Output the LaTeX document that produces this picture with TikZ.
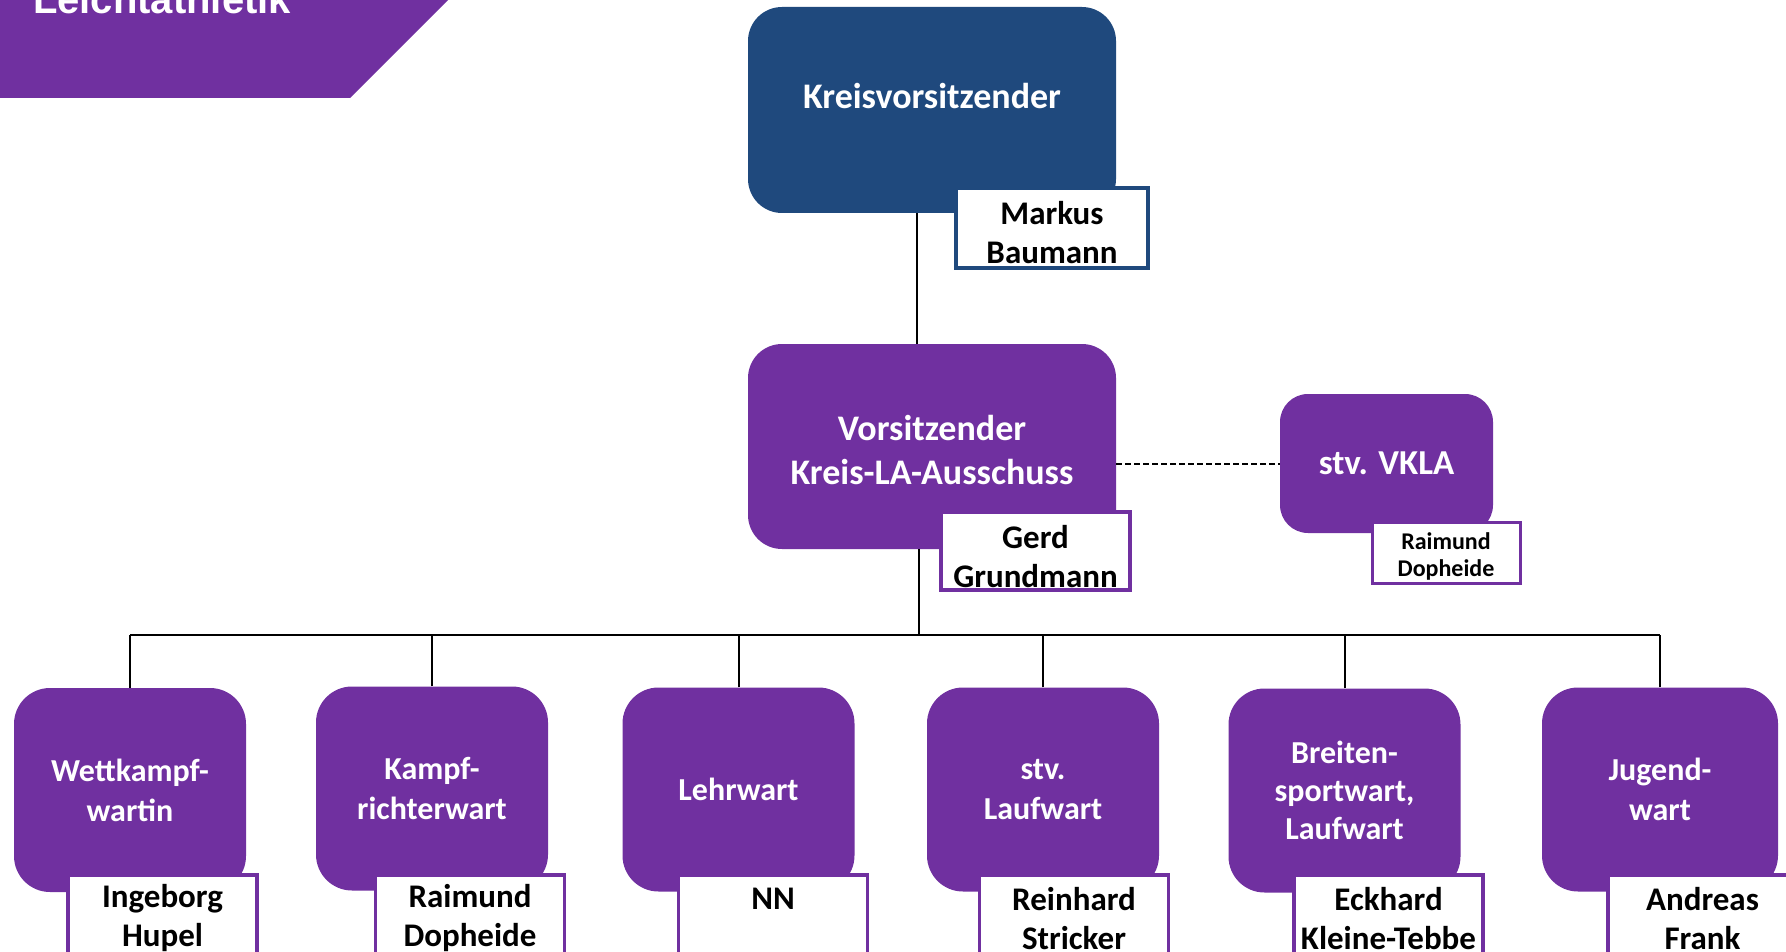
\documentclass[tikz,border=0pt]{standalone}
\usepackage{fontspec}
\setmainfont{Carlito}
\newfontfamily\bannerfont{Liberation Sans}
\usetikzlibrary{positioning}
\definecolor{lapurple}{RGB}{112,48,160}
\definecolor{ladarkblue}{RGB}{31,73,125}
\newcommand{\toproom}[1]{\rule{0pt}{#1}}

\begin{document}
\begin{tikzpicture}[x=1pt, y=-1pt,
    every node/.style={align=center, inner sep=0pt},
    office/.style={rounded corners=36pt, fill=lapurple, text=white, font=\bfseries\fontsize{32}{40}\selectfont, minimum width=232pt, minimum height=204pt},
    person/.style={draw=lapurple, line width=3.5pt, fill=white, font=\bfseries\fontsize{33}{39}\selectfont, minimum width=189pt, minimum height=87pt, anchor=north},
    link/.style={line width=2pt}]
    \useasboundingbox (0,0) rectangle (1786,952);

    % banner
    \fill[lapurple] (0,0) -- (448,0) -- (350,98) -- (0,98) -- cycle;
    \node[anchor=base west, text=white, font=\bannerfont\bfseries\fontsize{40}{48}\selectfont] (banner) at (33,14) {Leichtathletik};

    % top
    \node[office, fill=ladarkblue, minimum width=368pt, minimum height=206pt, rounded corners=34pt, font=\bfseries\fontsize{36}{43}\selectfont, text height=25pt, text depth=28pt] (kreis) at (932,110) {Kreisvorsitzender};
    \node[person, draw=ladarkblue, minimum width=192pt, minimum height=80pt, anchor=center] (markus) at (1052,228) {\toproom{33pt}Markus\\Baumann};

    \node[office, minimum width=368pt, minimum height=205pt, rounded corners=34pt, font=\bfseries\fontsize{36}{44}\selectfont] (vors) at (932,446.5) {\toproom{32pt}Vorsitzender\\Kreis-LA-Ausschuss};
    \node[person, minimum height=78pt, anchor=center] (gerd) at (1035.5,551) {\toproom{34pt}Gerd\\Grundmann};

    \node[office, minimum width=213pt, minimum height=139pt, rounded corners=28pt, font=\bfseries\fontsize{35}{42}\selectfont] (vkla) at (1386.5,463.5) {stv. VKLA};
    \node[person, line width=3pt, minimum width=148pt, minimum height=61pt, anchor=center, font=\bfseries\fontsize{24}{27}\selectfont] (raimundv) at (1446,552.5) {\toproom{25pt}Raimund\\Dopheide};

    % bottom row
    \node[office] (wettkampf) at (130,790) {Wettkampf-\\wartin};
    \node[office] (kampfrichter) at (432,788.5) {Kampf-\\richterwart};
    \node[office] (lehr) at (738.5,789.5) {Lehrwart};
    \node[office] (stvlauf) at (1043,789.5) {stv.\\Laufwart};
    \node[office, font=\bfseries\fontsize{32}{38}\selectfont] (breiten) at (1344.5,790.5) {Breiten-\\sportwart,\\Laufwart};
    \node[office, minimum width=236pt] (jugend) at (1660,789.5) {Jugend-\\wart};

    \node[person] (ingeborg) at (162.5,873) {Ingeborg\\Hupel};
    \node[person] (raimund) at (470,873) {Raimund\\Dopheide};
    \node[person] (nn) at (773,873) {NN\\\phantom{N}};
    \node[person] (reinhard) at (1074,873) {Reinhard\\Stricker};
    \node[person] (eckhard) at (1388.5,873) {Eckhard\\Kleine-Tebbe};
    \node[person] (andreas) at (1702.5,873) {Andreas\\Frank};

    % connectors
    \coordinate (bus) at (919,635);
    \draw[link] ([xshift=-15pt]kreis.south) -- ([xshift=-15pt]vors.north);
    \draw[link, dashed, dash pattern=on 6pt off 3pt] (vkla.west -| vors.east) -- (vkla.west);
    \draw[link] ([xshift=-13pt]vors.south) -- (bus);
    \draw[link, line width=2.5pt] (wettkampf.north |- bus) -- (jugend.north |- bus);
    \draw[link] (wettkampf.north) -- (wettkampf.north |- bus);
    \draw[link] (kampfrichter.north) -- (kampfrichter.north |- bus);
    \draw[link] (lehr.north) -- (lehr.north |- bus);
    \draw[link] (stvlauf.north) -- (stvlauf.north |- bus);
    \draw[link] (breiten.north) -- (breiten.north |- bus);
    \draw[link] (jugend.north) -- (jugend.north |- bus);
\end{tikzpicture}
\end{document}
